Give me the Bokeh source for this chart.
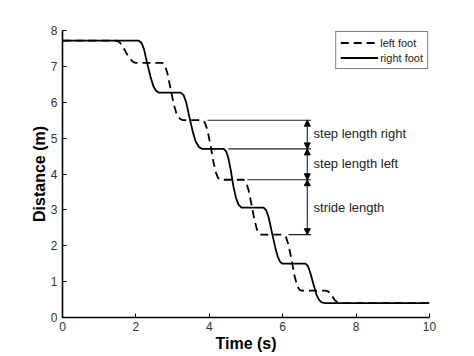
from bokeh.plotting import figure
from bokeh.models import (Range1d, FixedTicker, Legend, LegendItem, Arrow, NormalHead)
from bokeh.core.properties import value
from bokeh.embed import file_html
from bokeh.resources import INLINE

# ---- data ----
right_t = [0, 2.07, 2.15, 2.22, 2.30, 2.40, 2.48, 2.55, 2.62,
           3.22, 3.30, 3.37, 3.45, 3.55, 3.63, 3.72, 3.81,
           4.39, 4.46, 4.52, 4.59, 4.66, 4.73, 4.80, 4.88,
           5.48, 5.55, 5.62, 5.70, 5.80, 5.87, 5.93, 6.00,
           6.62, 6.69, 6.76, 6.84, 6.92, 6.99, 7.06, 7.15, 10]
right_d = [7.72, 7.72, 7.66, 7.48, 7.12, 6.70, 6.44, 6.32, 6.27,
           6.27, 6.20, 6.00, 5.62, 5.18, 4.90, 4.75, 4.70,
           4.70, 4.63, 4.44, 4.08, 3.64, 3.32, 3.14, 3.06,
           3.06, 2.99, 2.78, 2.40, 1.94, 1.68, 1.55, 1.50,
           1.50, 1.43, 1.22, 0.92, 0.64, 0.49, 0.42, 0.40, 0.40]

left_t = [0, 1.45, 1.55, 1.65, 1.75, 1.85, 1.93, 2.00,
          2.72, 2.79, 2.86, 2.94, 3.03, 3.11, 3.20, 3.28,
          3.81, 3.88, 3.95, 4.03, 4.11, 4.18, 4.24, 4.30,
          4.93, 5.00, 5.07, 5.15, 5.23, 5.30, 5.35, 5.40,
          6.02, 6.09, 6.16, 6.24, 6.32, 6.39, 6.45, 6.50,
          7.17, 7.25, 7.33, 7.42, 7.50, 7.57, 10]
left_d = [7.72, 7.72, 7.68, 7.55, 7.35, 7.20, 7.12, 7.10,
          7.10, 7.03, 6.80, 6.40, 5.95, 5.67, 5.54, 5.50,
          5.50, 5.43, 5.22, 4.82, 4.35, 4.04, 3.89, 3.84,
          3.84, 3.77, 3.55, 3.15, 2.72, 2.45, 2.34, 2.31,
          2.31, 2.24, 2.02, 1.62, 1.17, 0.90, 0.78, 0.75,
          0.75, 0.72, 0.62, 0.48, 0.42, 0.40, 0.40]

# annotation levels (m) and where their guide lines start (s)
level_values = [5.50, 4.70, 3.84, 2.31]
level_starts = [3.95, 4.52, 5.04, 6.16]
level_end = 6.77
arrow_x = 6.67
arrow_pairs = [(5.50, 4.70), (4.70, 3.84), (3.84, 2.31)]
ann_texts = ["step length right", "step length left", "stride length"]
ann_x = [6.84, 6.84, 6.84]
ann_y = [5.12, 4.29, 3.06]

x_ticks = [0, 2, 4, 6, 8, 10]
y_ticks = [0, 1, 2, 3, 4, 5, 6, 7, 8]

FONT = "Liberation Sans"

p = figure(width=474, height=356, output_backend="svg", toolbar_location=None,
           x_range=Range1d(0, 10), y_range=Range1d(0, 8),
           min_border_left=62, min_border_right=45, min_border_top=30,
           min_border_bottom=39)
p.outline_line_color = None
p.grid.grid_line_color = None
p.background_fill_color = "white"
p.border_fill_color = "white"

for ax in (p.xaxis[0], p.yaxis[0]):
    ax.axis_line_width = 1.6
    ax.axis_line_color = "black"
    ax.major_tick_in = 4
    ax.major_tick_out = 0
    ax.major_tick_line_color = "black"
    ax.minor_tick_line_color = None
    ax.major_label_text_font = FONT
    ax.major_label_text_font_size = "12px"
    ax.major_label_text_color = "#333333"
    ax.axis_label_text_font = FONT
    ax.axis_label_text_font_style = "bold"
    ax.axis_label_text_font_size = "16px"
    ax.axis_label_text_color = "black"

p.xaxis[0].ticker = FixedTicker(ticks=x_ticks)
p.yaxis[0].ticker = FixedTicker(ticks=y_ticks)
p.xaxis[0].axis_label = "Time (s)"
p.yaxis[0].axis_label = "Distance (m)"
p.xaxis[0].major_label_standoff = 4
p.yaxis[0].major_label_standoff = 5
p.xaxis[0].axis_label_standoff = 1
p.yaxis[0].axis_label_standoff = 0

# curves
r_left = p.line(left_t, left_d, line_color="black", line_width=1.8, line_dash="8 5")
r_right = p.line(right_t, right_d, line_color="black", line_width=1.8)

# guide lines
p.segment(x0=level_starts, y0=level_values, x1=[level_end] * len(level_values),
          y1=level_values, line_color="#222222", line_width=1.1)

for (a, b) in arrow_pairs:
    p.add_layout(Arrow(x_start=arrow_x, y_start=a, x_end=arrow_x, y_end=b,
                       line_color="#222222", line_width=1.1,
                       start=NormalHead(size=6, fill_color="black", line_color="black", line_width=1),
                       end=NormalHead(size=6, fill_color="black", line_color="black", line_width=1)))

p.text(x=ann_x, y=ann_y, text=ann_texts, text_font=value(FONT),
       text_font_size="13px", text_baseline="middle", text_align="left",
       text_color="#222222")

legend = Legend(items=[LegendItem(label="left foot", renderers=[r_left]),
                       LegendItem(label="right foot", renderers=[r_right])],
                location="top_right")
legend.label_text_font = FONT
legend.label_text_font_size = "11px"
legend.label_text_color = "#222222"
legend.glyph_width = 38
legend.glyph_height = 13
legend.label_height = 13
legend.label_standoff = 2
legend.padding = 4
legend.spacing = 2
legend.margin = 1
legend.border_line_color = "black"
legend.border_line_width = 1
legend.background_fill_alpha = 1
p.add_layout(legend)

open("out.html", "w").write(file_html(p, INLINE))
